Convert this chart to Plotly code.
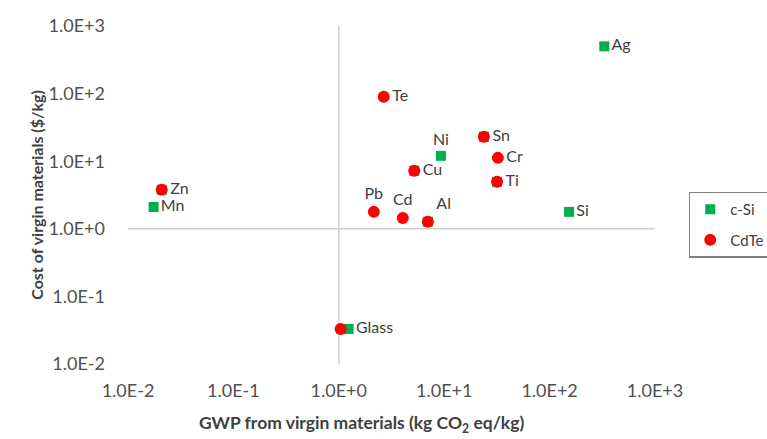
import plotly.graph_objects as go

# ---- data ----
csi_names = ["Ag", "Ni", "Si", "Mn", "Glass", "Zn", "Cu", "Sn", "Ti", "Al"]
csi_gwp = [330, 9.3, 153, 0.0175, 1.24, 0.0209, 5.2, 23.8, 31.7, 7.0]
csi_cost = [500, 12, 1.78, 2.1, 0.033, 3.78, 7.2, 23, 4.96, 1.27]
csi_labels = ["Ag", "Ni", "Si", "Mn", "Glass", "", "", "", "", ""]

cdte_names = ["Te", "Sn", "Cr", "Cu", "Ti", "Pb", "Cd", "Al", "Zn", "Glass"]
cdte_gwp = [2.67, 23.8, 32.3, 5.2, 31.7, 2.15, 4.05, 7.0, 0.0209, 1.04]
cdte_cost = [90, 23, 11.2, 7.2, 4.96, 1.78, 1.45, 1.27, 3.78, 0.033]
cdte_labels = ["Te", "Sn", "Cr", "Cu", "Ti", "Pb", "Cd", "Al", "Zn", ""]

tick_vals = [0.01, 0.1, 1, 10, 100, 1000]
tick_text = ["1.0E-2", "1.0E-1", "1.0E+0", "1.0E+1", "1.0E+2", "1.0E+3"]

# label placement (style)
csi_pos = ["middle right", "top center", "middle right", "middle right", "middle right",
           "middle right", "middle right", "middle right", "middle right", "middle right"]
cdte_pos = ["middle right", "middle right", "middle right", "middle right", "middle right",
            "top center", "top center", "top right", "middle right", "middle right"]

FONT = "Lato, 'Liberation Sans', sans-serif"
TXT = "#404040"

fig = go.Figure()

# axis crossing lines (at x=1, y=1)
fig.add_trace(go.Scatter(x=[1, 1], y=[tick_vals[0], tick_vals[-1]], mode="lines",
                         line=dict(color="#CFCFCF", width=1.5), showlegend=False, hoverinfo="skip"))
fig.add_trace(go.Scatter(x=[tick_vals[0], tick_vals[-1]], y=[1, 1], mode="lines",
                         line=dict(color="#CFCFCF", width=1.5), showlegend=False, hoverinfo="skip"))

fig.add_trace(go.Scatter(
    x=csi_gwp, y=csi_cost, name="c-Si", mode="markers+text",
    text=csi_labels, textposition=csi_pos, customdata=csi_names,
    textfont=dict(family=FONT, size=16, color=TXT),
    marker=dict(symbol="square", size=10, color="#00B050"),
    legendgroup="a", cliponaxis=False))

fig.add_trace(go.Scatter(
    x=cdte_gwp, y=cdte_cost, name="CdTe", mode="markers+text",
    text=cdte_labels, textposition=cdte_pos, customdata=cdte_names,
    textfont=dict(family=FONT, size=16, color=TXT),
    marker=dict(symbol="circle", size=12, color="#FF0000"),
    legendgroup="b", cliponaxis=False))

axis_common = dict(type="log", range=[-2, 3], tickvals=tick_vals, ticktext=tick_text,
                   showgrid=False, zeroline=False, showline=False, ticks="",
                   tickfont=dict(family=FONT, size=18, color="#505050"))

fig.update_xaxes(**axis_common, ticklabelstandoff=14)
fig.update_yaxes(**axis_common, ticklabelstandoff=22)

fig.update_layout(
    width=767, height=439,
    margin=dict(l=128, r=112, t=26, b=75, autoexpand=False),
    plot_bgcolor="white", paper_bgcolor="white",
    font=dict(family=FONT, color=TXT),
    legend=dict(x=1.064, y=0.51, xanchor="left", yanchor="top",
                bordercolor="#808080", borderwidth=1.5, bgcolor="white",
                font=dict(family=FONT, size=15, color=TXT),
                traceorder="grouped", tracegroupgap=8),
    annotations=[
        dict(text="<b>GWP from virgin materials (kg CO<sub>2</sub> eq/kg)</b>",
             xref="paper", yref="paper", x=0.443, y=-0.178, xanchor="center", yanchor="middle",
             showarrow=False, font=dict(family=FONT, size=17.5, color="#404040")),
        dict(text="<b>Cost of virgin materials ($/kg)</b>",
             xref="paper", yref="paper", x=-0.175, y=0.5, xanchor="center", yanchor="middle",
             textangle=-90, showarrow=False, font=dict(family=FONT, size=16, color="#404040")),
    ],
)

fig.write_html("out.html")
